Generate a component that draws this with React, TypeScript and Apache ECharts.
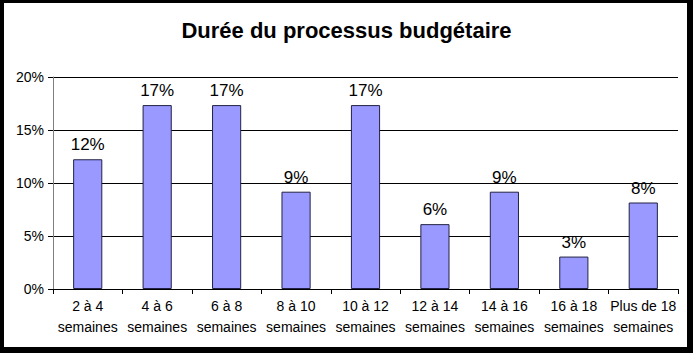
import React, { useEffect, useRef } from "react";
import * as echarts from "echarts";

const titleText = "Durée du processus budgétaire";
const categories = [
  "2 à 4\nsemaines",
  "4 à 6\nsemaines",
  "6 à 8\nsemaines",
  "8 à 10\nsemaines",
  "10 à 12\nsemaines",
  "12 à 14\nsemaines",
  "14 à 16\nsemaines",
  "16 à 18\nsemaines",
  "Plus de 18\nsemaines",
];
const values = [12.24, 17.35, 17.35, 9.18, 17.35, 6.12, 9.18, 3.06, 8.16];
const yTicks = [0, 5, 10, 15, 20];

const FONT = "'Liberation Sans', Arial, sans-serif";

export default function App() {
  const ref = useRef<HTMLDivElement>(null);
  useEffect(() => {
    if (!ref.current) return;
    const chart = echarts.init(ref.current, undefined, { renderer: "svg" });
    chart.setOption({
      animation: false,
      backgroundColor: "#ffffff",
      title: {
        text: titleText,
        left: "center",
        top: 14,
        textStyle: { fontFamily: FONT, fontSize: 22, fontWeight: "bold", color: "#000" },
      },
      grid: { left: 53, right: 15, top: 77, bottom: 64 },
      xAxis: {
        type: "category",
        data: categories,
        axisLine: { lineStyle: { color: "#000", width: 1 } },
        axisTick: { show: true, length: 5, lineStyle: { color: "#000" } },
        axisLabel: {
          fontFamily: FONT,
          fontSize: 14,
          color: "#000",
          lineHeight: 21,
          margin: 6,
          interval: 0,
        },
      },
      yAxis: {
        type: "value",
        min: yTicks[0],
        max: yTicks[yTicks.length - 1],
        interval: 5,
        axisLine: { show: true, lineStyle: { color: "#808080", width: 1 } },
        axisTick: { show: true, length: 5, lineStyle: { color: "#000" } },
        axisLabel: {
          fontFamily: FONT,
          fontSize: 14,
          color: "#000",
          margin: 9,
          formatter: (v: number) => `${v}%`,
        },
        splitLine: { show: true, lineStyle: { color: "#000", width: 1 } },
      },
      series: [
        {
          type: "bar",
          data: values,
          barWidth: "42%",
          itemStyle: { color: "#9999FF", borderColor: "#222244", borderWidth: 1 },
          label: {
            show: true,
            position: "top",
            distance: 6,
            fontFamily: FONT,
            fontSize: 17,
            color: "#000",
            formatter: (p: any) => `${Math.round(p.value)}%`,
          },
        },
      ],
      graphic: [
        { type: "rect", left: 0, top: 0, shape: { width: 693, height: 3 }, style: { fill: "#000" } },
        { type: "rect", left: 0, top: 0, shape: { width: 4, height: 353 }, style: { fill: "#000" } },
        { type: "rect", right: 0, top: 0, shape: { width: 6, height: 353 }, style: { fill: "#000" } },
        { type: "rect", left: 0, bottom: 0, shape: { width: 693, height: 6 }, style: { fill: "#000" } },
      ],
    });
    return () => chart.dispose();
  }, []);
  return (
    <div
      ref={ref}
      style={{ position: "fixed", left: 0, top: 0, width: 693, height: 353 }}
    />
  );
}
